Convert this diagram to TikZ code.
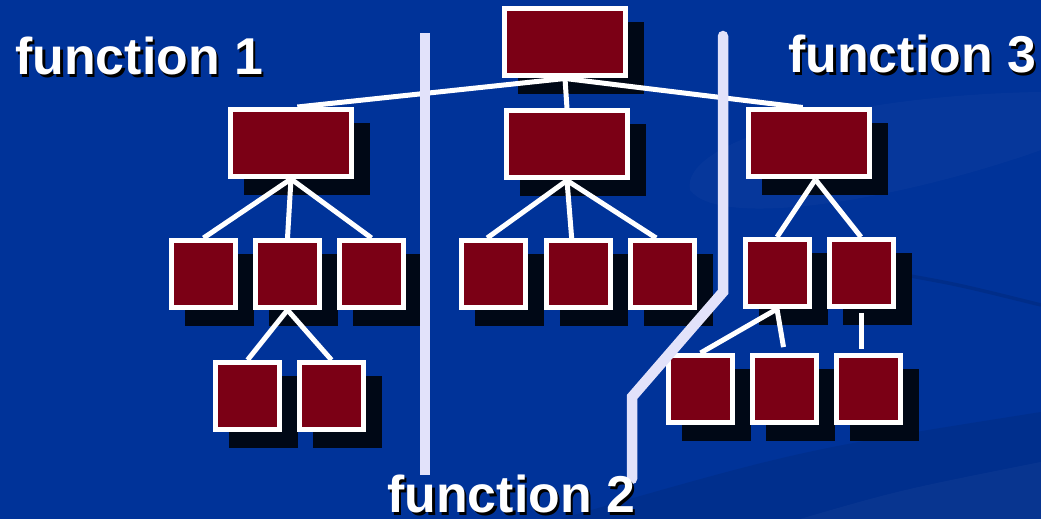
\documentclass[tikz,border=0pt]{standalone}
\usepackage{fontspec}
\newfontfamily\funfont{Liberation Sans}
\usetikzlibrary{shadows}

\definecolor{bgblue}{RGB}{0,51,153}
\definecolor{boxred}{RGB}{123,0,21}
\definecolor{shadowblk}{RGB}{0,8,22}
\definecolor{wallcol}{RGB}{226,226,250}

\begin{document}
\begin{tikzpicture}[x=0.02cm, y=-0.02cm,
  box/.style={draw=white, line width=0.1cm, fill=boxred, inner sep=0,
    drop shadow={shadow xshift=0.32cm, shadow yshift=-0.32cm, fill=shadowblk, draw=shadowblk, opacity=1}},
  bigbox/.style={box, minimum width=2.42cm, minimum height=1.34cm},
  smallbox/.style={box, minimum width=1.28cm, minimum height=1.34cm},
  link/.style={white, line width=0.1cm},
  wall/.style={wallcol, line width=0.21cm},
  funlabel/.style={anchor=base west, inner sep=0, text=white, font=\funfont\bfseries\fontsize{29.5}{32}\selectfont},
  funshade/.style={funlabel, text=black}]
\useasboundingbox (0,0) rectangle (1041,519);
\fill[bgblue] (0,0) rectangle (1041,519);
% faint swooshes in the backdrop
\fill[white, opacity=.025] (1041,92) .. controls (850,95) and (680,140) .. (690,190) .. controls (720,230) and (900,200) .. (1041,150) -- cycle;
\draw[black, opacity=.1, line width=2] (905,275) .. controls (960,285) .. (1041,305);
\fill[black, opacity=.08] (560,519) .. controls (800,450) .. (1041,412) -- (1041,519) -- cycle;
\fill[white, opacity=.03] (800,519) .. controls (900,490) .. (1041,462) -- (1041,519) -- cycle;

% the tree
\node[bigbox] (top) at (565,42.5) {};
\node[bigbox] (a) at (291,143) {};
\node[bigbox] (b) at (567,144.5) {};
\node[bigbox] (c) at (809,143.5) {};
\foreach \n/\x in {1/203.5, 2/287.5, 3/371.5}
  \node[smallbox] (a\n) at (\x,274) {};
\node[smallbox] (a21) at (247.5,396) {};
\node[smallbox] (a22) at (331.5,396) {};
\foreach \n/\x in {1/493.5, 2/578, 3/662.5}
  \node[smallbox] (b\n) at (\x,274) {};
\node[smallbox] (c1) at (777,273) {};
\node[smallbox] (c2) at (861,273) {};
\node[smallbox] (c11) at (700.5,389) {};
\node[smallbox] (c12) at (784.5,389) {};
\node[smallbox] (c21) at (868.5,389) {};

% links
\draw[link] (top.south) -- (a.80);
\draw[link] (top.south) -- (b.north);
\draw[link] (top.south) -- (c.100);
\foreach \n in {1,2,3} {
  \draw[link] (a.south) -- (a\n.north);
  \draw[link] (b.south) -- (b\n.100);
}
\draw[link] (a2.south) -- (a21.north);
\draw[link] (a2.south) -- (a22.north);
\draw[link] (c.-80) -- (c1.north);
\draw[link] (c.-80) -- (c2.north);
\draw[link] (c1.south) -- (c11.north);
\draw[link, shorten >=0.12cm] (c1.south) -- (c12.north);
\draw[link, shorten <=0.08cm, shorten >=0.08cm] (c2.south) -- (c2.south |- c21.north);

% dividers
\draw[wall] (425,33) -- (425,475);
\draw[wall, line cap=round] (723,36) -- (723,292) -- (632,397) -- (632,479);

% labels
\foreach \n/\x/\y in {1/15/75, 2/387/513, 3/788/73} {
  \node[funshade] (funs\n) at (\x+2.5,\y+2.5) {function \n};
  \node[funlabel] (fun\n) at (\x,\y) {function \n};
}
\end{tikzpicture}
\end{document}
